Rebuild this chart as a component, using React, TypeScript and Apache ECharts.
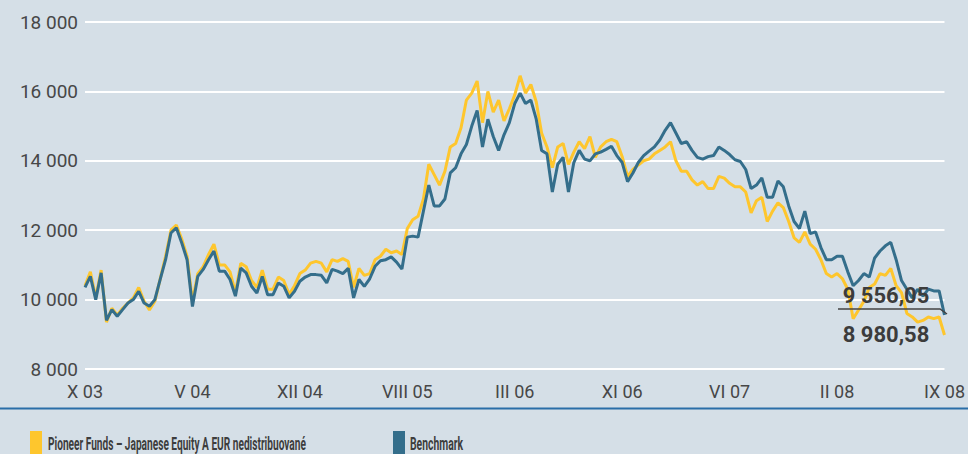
import React, { useEffect, useRef } from "react";
import * as echarts from "echarts";

const tickLabels = ["X 03", "V 04", "XII 04", "VIII 05", "III 06", "XI 06", "VI 07", "II 08", "IX 08"];
const seriesNames = ["Pioneer Funds – Japanese Equity A EUR nedistribuované", "Benchmark"];

const fundValues = [
  10400, 10800, 10050, 10850, 9350, 9750, 9550, 9750, 9900, 10050,
  10350, 9950, 9700, 9950, 10600, 11250, 12000, 12150, 11750, 11250,
  9950, 10750, 10950, 11300, 11600, 11000, 11000, 10800, 10200, 11050,
  10950, 10550, 10350, 10850, 10300, 10300, 10650, 10550, 10150, 10400,
  10750, 10850, 11050, 11100, 11050, 10800, 11150, 11100, 11180, 11100,
  10350, 10900, 10700, 10750, 11150, 11250, 11450, 11350, 11400, 11300,
  12050, 12300, 12400, 12900, 13900, 13600, 13300, 13700, 14400, 14500,
  14950, 15750, 15950, 16300, 15100, 16000, 15400, 15750, 15150, 15500,
  15900, 16450, 15950, 16200, 15700, 14800, 14400, 13800, 14400, 14500,
  13900, 14250, 14550, 14350, 14700, 14100, 14400, 14550, 14620, 14550,
  14120, 13550, 13750, 13880, 14000, 14050, 14200, 14300, 14400, 14550,
  14000, 13700, 13700, 13450, 13300, 13400, 13200, 13200, 13550, 13500,
  13350, 13250, 13250, 13100, 12500, 12850, 12950, 12250, 12550, 12790,
  12650, 12250, 11780, 11650, 11950, 11600, 11450, 11150, 10750, 10650,
  10750, 10600, 10300, 9450, 9700, 9950, 10350, 10450, 10750, 10700,
  10900, 10400, 10200, 9600, 9500, 9350, 9400, 9500, 9450, 9500, 8980.58,
];

const benchmarkValues = [
  10350, 10670, 10000, 10770, 9400, 9710, 9520, 9710, 9900, 10000,
  10240, 9900, 9810, 10000, 10580, 11150, 11920, 12070, 11640, 11150,
  9800, 10670, 10870, 11150, 11400, 10820, 10820, 10580, 10100, 10910,
  10770, 10385, 10190, 10670, 10140, 10140, 10480, 10385, 10050, 10240,
  10530, 10650, 10720, 10720, 10700, 10480, 10870, 10820, 10750, 10900,
  10050, 10580, 10380, 10600, 10960, 11120, 11150, 11230, 11080, 10880,
  11800, 11830, 11800, 12550, 13300, 12700, 12700, 12900, 13650, 13800,
  14200, 14470, 15000, 15450, 14400, 15200, 14700, 14300, 14750, 15100,
  15650, 15950, 15650, 15750, 15200, 14300, 14200, 13100, 13900, 14100,
  13100, 13950, 14300, 14050, 14000, 14200, 14250, 14330, 14420, 14150,
  13950, 13400, 13650, 13950, 14150, 14280, 14400, 14600, 14880, 15100,
  14800, 14500, 14550, 14300, 14100, 14050, 14120, 14150, 14400, 14300,
  14180, 14030, 13980, 13750, 13200, 13300, 13510, 12950, 12950, 13420,
  13250, 12700, 12250, 12050, 12550, 11900, 11950, 11500, 11150, 11150,
  11250, 11250, 10800, 10400, 10550, 10750, 10650, 11200, 11400, 11550,
  11650, 11150, 10550, 10300, 10050, 10300, 10100, 10300, 10250, 10250, 9556.05,
];

const STEP = 20;
const YMIN = 8000;
const YMAX = 18000;
const YINT = 2000;

const FUND_COLOR = "#fec62d";
const BENCH_COLOR = "#346e8b";
const BG = "#d5dfe7";
const TEXT = "#474747";

function thousands(v: number): string {
  return String(Math.round(v)).replace(/\B(?=(\d{3})+(?!\d))/g, " ");
}
function money(v: number): string {
  const [i, d] = v.toFixed(2).split(".");
  return i.replace(/\B(?=(\d{3})+(?!\d))/g, " ") + "," + d;
}

function measure(text: string, font: string): number {
  const c = document.createElement("canvas").getContext("2d");
  if (!c) return text.length * 10;
  c.font = font;
  return c.measureText(text).width;
}

export default function App() {
  const ref = useRef<HTMLDivElement>(null);
  useEffect(() => {
    document.body.style.margin = "0";
    if (!ref.current) return;
    const chart = echarts.init(ref.current, undefined, { renderer: "svg" });
    const fundData = fundValues.map((v, i) => [i, v]);
    const benchData = benchmarkValues.map((v, i) => [i, v]);
    const legendFont = "bold 19px Roboto";
    const w1 = measure(seriesNames[0], legendFont);
    const w2 = measure(seriesNames[1], legendFont);
    const lastB = benchmarkValues[benchmarkValues.length - 1];
    const lastF = fundValues[fundValues.length - 1];

    chart.setOption({
      animation: false,
      backgroundColor: BG,
      grid: { left: 85, right: 21, top: 22, bottom: 85 },
      xAxis: {
        type: "value",
        min: 0,
        max: (tickLabels.length - 1) * STEP,
        interval: STEP,
        axisLine: { show: false },
        axisTick: { show: false },
        splitLine: { show: false },
        axisLabel: {
          margin: 13,
          color: TEXT,
          fontFamily: "Roboto",
          fontSize: 18,
          showMaxLabel: true,
          formatter: (v: number) => tickLabels[Math.round(v / STEP)] ?? "",
        },
      },
      yAxis: {
        type: "value",
        min: YMIN,
        max: YMAX,
        interval: YINT,
        axisLine: { show: false },
        axisTick: { show: false },
        splitLine: { lineStyle: { color: "#ffffff", width: 2 } },
        axisLabel: {
          margin: 7,
          color: TEXT,
          fontFamily: "Roboto",
          fontSize: 19,
          formatter: (v: number) => thousands(v),
        },
      },
      series: [
        {
          name: seriesNames[0],
          type: "line",
          data: fundData,
          showSymbol: false,
          lineStyle: { color: FUND_COLOR, width: 3 },
          itemStyle: { color: FUND_COLOR },
        },
        {
          name: seriesNames[1],
          type: "line",
          data: benchData,
          showSymbol: false,
          lineStyle: { color: BENCH_COLOR, width: 3 },
          itemStyle: { color: BENCH_COLOR },
        },
      ],
      graphic: [
        {
          type: "line",
          shape: { x1: 0, y1: 408.5, x2: 968, y2: 408.5 },
          style: { stroke: "#2a6ea8", lineWidth: 2 },
        },
        { type: "rect", shape: { x: 30, y: 431, width: 12, height: 30 }, style: { fill: FUND_COLOR } },
        {
          type: "text",
          x: 48,
          y: 434,
          scaleX: 258 / w1,
          style: { text: seriesNames[0], font: legendFont, fill: "#3d3d3d", textVerticalAlign: "top" },
        },
        { type: "rect", shape: { x: 393, y: 431, width: 12, height: 30 }, style: { fill: BENCH_COLOR } },
        {
          type: "text",
          x: 410,
          y: 434,
          scaleX: 53 / w2,
          style: { text: seriesNames[1], font: legendFont, fill: "#3d3d3d", textVerticalAlign: "top" },
        },
        {
          type: "polyline",
          shape: { points: [[838, 309], [940, 309], [947, 314]] },
          style: { stroke: "#444444", lineWidth: 1.5, fill: "none" },
          z: 100,
        },
        {
          type: "text",
          x: 886,
          y: 295,
          z: 100,
          style: {
            text: money(lastB),
            font: "bold 22px Roboto",
            fill: "#3c3c3c",
            textAlign: "center",
            textVerticalAlign: "middle",
          },
        },
        {
          type: "text",
          x: 886,
          y: 334,
          z: 100,
          style: {
            text: money(lastF),
            font: "bold 22px Roboto",
            fill: "#3c3c3c",
            textAlign: "center",
            textVerticalAlign: "middle",
          },
        },
      ],
    });
    return () => chart.dispose();
  }, []);
  return <div ref={ref} style={{ width: 968, height: 454 }} />;
}
